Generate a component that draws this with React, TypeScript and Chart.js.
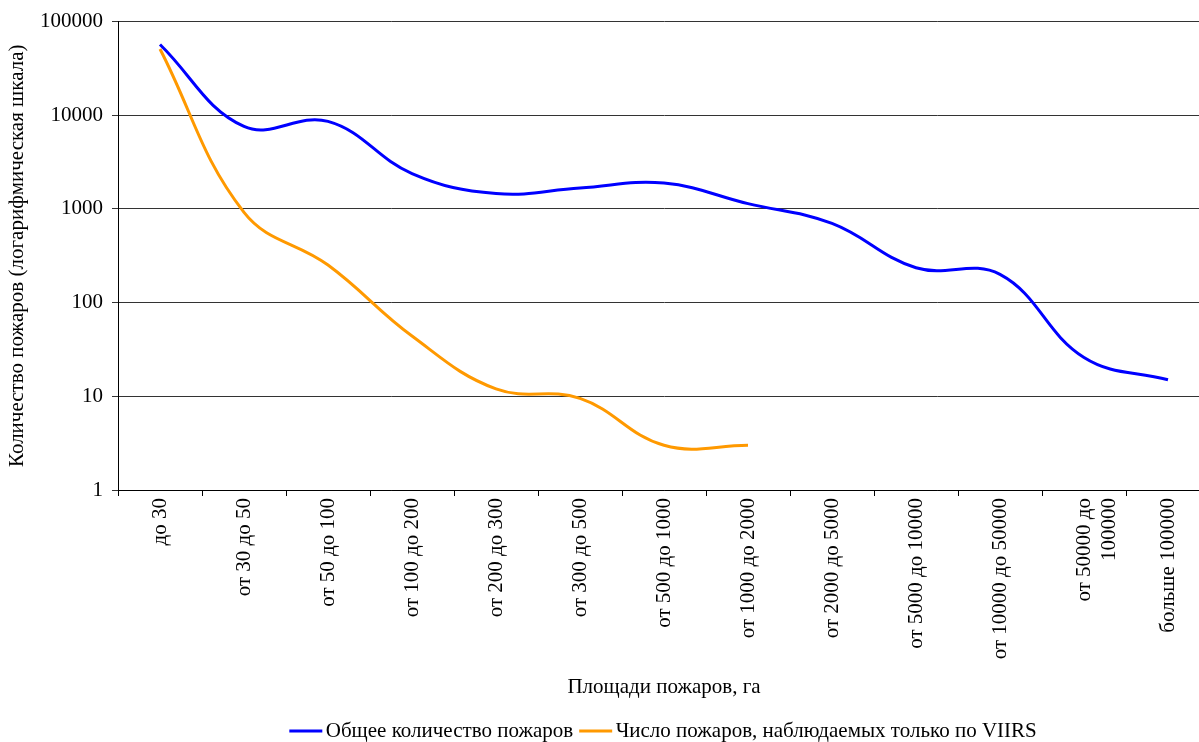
import { useEffect, useRef } from "react";
import { Chart, registerables } from "chart.js";

Chart.register(...registerables);

const categories: (string | string[])[] = [
  "до 30",
  "от 30 до 50",
  "от 50 до 100",
  "от 100 до 200",
  "от 200 до 300",
  "от 300 до 500",
  "от 500 до 1000",
  "от 1000 до 2000",
  "от 2000 до 5000",
  "от 5000 до 10000",
  "от 10000 до 50000",
  ["от 50000 до", "100000"],
  "больше 100000",
];

const totalFires = [57000, 7600, 8600, 2390, 1460, 1670, 1890, 1140, 700, 236, 200, 26, 15];
const viirsOnly = [51000, 920, 252, 44, 12, 9.5, 3, 3];

const seriesNames = [
  "Общее количество пожаров",
  "Число пожаров, наблюдаемых только по VIIRS",
];
const seriesColors = ["#0000FF", "#FF9900"];

const yTickValues = [1, 10, 100, 1000, 10000, 100000];

const xTitle = "Площади пожаров, га";
const yTitle = "Количество пожаров (логарифмическая шкала)";

const FONT = "'Liberation Serif', 'Times New Roman', serif";
const FS = 21;

// legend marker: a 33px line drawn in a wider canvas so the text sits close to it
function legendLine(color: string): HTMLCanvasElement {
  const c = document.createElement("canvas");
  c.width = 66;
  c.height = 6;
  const ctx = c.getContext("2d")!;
  ctx.strokeStyle = color;
  ctx.lineWidth = 3;
  ctx.beginPath();
  ctx.moveTo(20, 3);
  ctx.lineTo(53, 3);
  ctx.stroke();
  return c;
}

export default function App() {
  const ref = useRef<HTMLCanvasElement>(null);

  useEffect(() => {
    document.body.style.margin = "0";
    const canvas = ref.current;
    if (!canvas) return;
    const chart = new Chart(canvas, {
      type: "line",
      data: {
        labels: categories,
        datasets: [
          {
            label: seriesNames[0],
            data: totalFires,
            borderColor: seriesColors[0],
            backgroundColor: seriesColors[0],
            borderWidth: 3,
            pointRadius: 0,
            pointStyle: legendLine(seriesColors[0]),
            tension: 0.4,
            fill: false,
          },
          {
            label: seriesNames[1],
            data: viirsOnly,
            borderColor: seriesColors[1],
            backgroundColor: seriesColors[1],
            borderWidth: 3,
            pointRadius: 0,
            pointStyle: legendLine(seriesColors[1]),
            tension: 0.4,
            fill: false,
          },
        ],
      },
      options: {
        animation: false,
        responsive: false,
        maintainAspectRatio: false,
        layout: { padding: { left: 0, right: 0, top: 20, bottom: -9.5 } },
        plugins: {
          tooltip: { enabled: false },
          legend: {
            display: true,
            position: "bottom",
            align: "center",
            labels: {
              usePointStyle: true,
              pointStyleWidth: 26,
              padding: 6,
              color: "#000",
              font: { family: FONT, size: FS },
            },
          },
        },
        scales: {
          x: {
            offset: true,
            grid: {
              offset: true,
              drawOnChartArea: false,
              drawTicks: true,
              tickLength: 6,
              color: "#000",
              lineWidth: 1,
            },
            border: { color: "#000", width: 1 },
            ticks: {
              minRotation: 90,
              maxRotation: 90,
              autoSkip: false,
              padding: 2,
              color: "#000",
              font: { family: FONT, size: FS },
            },
            title: {
              display: true,
              text: xTitle,
              color: "#000",
              font: { family: FONT, size: FS },
              padding: { top: 0, bottom: 14 },
            },
            afterFit: (s: any) => {
              s.height = 224.5;
            },
          },
          y: {
            type: "logarithmic",
            position: "left",
            min: 1,
            max: 100000,
            afterBuildTicks: (s: any) => {
              s.ticks = yTickValues.map((v) => ({ value: v }));
            },
            ticks: {
              callback: (v: any) => String(v),
              padding: 9,
              color: "#000",
              font: { family: FONT, size: FS },
            },
            grid: { color: "#333", lineWidth: 1, tickLength: 6 },
            border: { color: "#000", width: 1 },
            title: {
              display: true,
              text: yTitle,
              color: "#000",
              font: { family: FONT, size: FS },
              padding: { top: 5, bottom: 0 },
            },
            afterFit: (s: any) => {
              s.width = 118;
            },
          },
          spacer: {
            type: "linear",
            position: "right",
            display: true,
            grid: { display: false, drawTicks: false },
            border: { display: false },
            ticks: { display: false },
            afterFit: (s: any) => {
              s.width = 116;
            },
          },
        },
      },
    } as any);
    return () => chart.destroy();
  }, []);

  return (
    <div style={{ width: 1199, height: 742, overflow: "hidden", background: "#fff" }}>
      <canvas ref={ref} width={1326} height={742} style={{ display: "block", width: 1326, height: 742 }} />
    </div>
  );
}
